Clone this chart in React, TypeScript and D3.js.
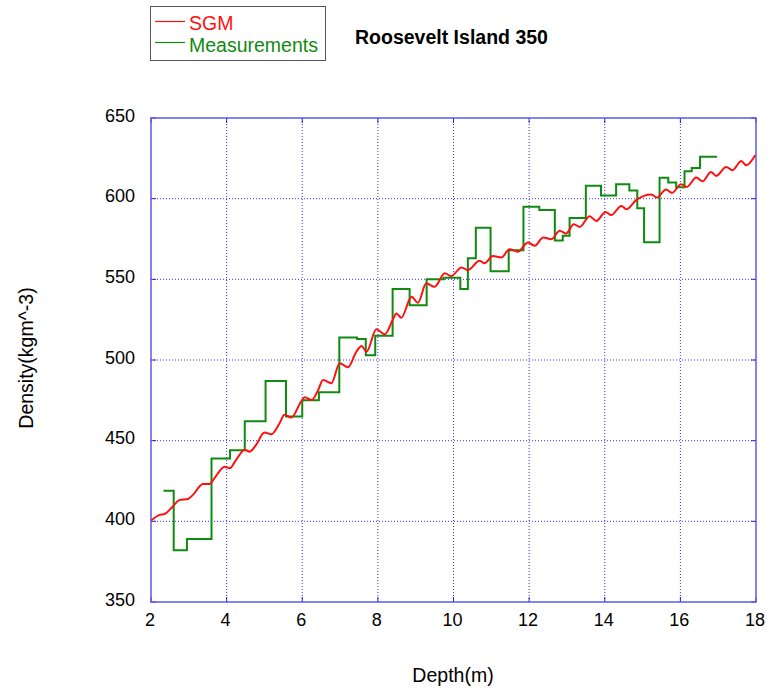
import React, { useEffect, useRef } from "react";
import * as d3 from "d3";

// SGM model curve (depth in m, density in kg/m^3)
const sgmDepth = [
  2.0, 2.23, 2.36, 2.54, 2.76, 2.98, 3.11, 3.37, 3.55, 3.68, 3.95, 4.08, 4.25, 4.48, 4.61, 4.78,
  5.0, 5.18, 5.4, 5.53, 5.71, 5.97, 6.07, 6.25, 6.42, 6.55, 6.77, 6.99, 7.21, 7.43, 7.57, 7.7,
  7.96, 8.18, 8.4, 8.49, 8.62, 8.89, 9.06, 9.28, 9.5, 9.77, 9.94, 10.21, 10.38, 10.69, 10.82,
  11.04, 11.27, 11.48, 11.7, 11.97, 12.15, 12.37, 12.59, 12.81, 12.98, 13.18, 13.34, 13.6,
  13.78, 14.02, 14.17, 14.44, 14.57, 14.83, 15.23, 15.38, 15.62, 15.78, 16.02, 16.17, 16.42,
  16.59, 16.81, 16.95, 17.21, 17.38, 17.61, 17.74, 17.98,
];
const sgmDensity = [
  400.5, 404.0, 404.5, 408.2, 413.3, 413.9, 416.4, 423.2, 423.2, 426.8, 433.9, 432.9, 438.1,
  444.3, 443.2, 447.4, 455.0, 454.0, 460.8, 466.0, 464.3, 474.2, 476.9, 475.2, 481.4, 487.6,
  485.6, 498.0, 495.5, 505.1, 508.7, 505.1, 519.0, 515.9, 525.2, 528.9, 526.2, 539.2, 535.5,
  547.5, 545.4, 553.7, 552.0, 557.4, 555.7, 561.5, 559.9, 564.4, 563.6, 568.7, 567.1, 572.9,
  570.8, 576.0, 574.9, 580.1, 578.4, 584.2, 582.5, 589.1, 586.2, 591.8, 589.8, 595.5, 593.5,
  599.1, 602.6, 600.7, 605.7, 603.6, 609.0, 607.3, 613.1, 610.8, 616.6, 614.1, 619.7, 617.6,
  623.4, 620.7, 626.9,
];

// Measured density: each value holds from its start depth to the next start depth
const measStart = [
  2.33, 2.6, 2.95, 3.6, 4.09, 4.48, 5.03, 5.57, 6.0, 6.44, 6.98, 7.45, 7.68, 7.93, 8.39, 8.84,
  9.29, 9.74, 10.18, 10.38, 10.59, 10.98, 11.46, 11.85, 12.27, 12.68, 12.89, 13.07, 13.5, 13.9,
  14.3, 14.65, 14.86, 15.04, 15.45, 15.68, 15.89, 16.11, 16.3, 16.52,
];
const measDensity = [
  419, 382, 389, 439, 444, 462, 487, 465, 475, 480, 514, 513, 503, 515, 544, 534, 550, 551,
  544, 563, 582, 555, 568, 595, 593, 574, 577, 588, 608, 602, 609, 605, 594, 573, 613, 610,
  607, 617, 619, 626,
];
const measEnd = 16.97;

const xTicks = [2, 4, 6, 8, 10, 12, 14, 16, 18];
const yTicks = [350, 400, 450, 500, 550, 600, 650];

const W = 769;
const H = 693;
const M = { left: 151, right: 756, top: 118, bottom: 602 };
const FONT = "'Liberation Sans', Arial, sans-serif";

export default function App() {
  const ref = useRef<SVGSVGElement | null>(null);

  useEffect(() => {
    const svg = d3.select(ref.current);
    svg.selectAll("*").remove();

    const x = d3.scaleLinear().domain([2, 18]).range([M.left, M.right]);
    const y = d3.scaleLinear().domain([350, 650]).range([M.bottom, M.top]);

    // grid
    const grid = svg.append("g");
    xTicks.slice(1, -1).forEach((t) => {
      grid.append("line")
        .attr("x1", x(t)).attr("x2", x(t))
        .attr("y1", M.top).attr("y2", M.bottom)
        .attr("stroke", "#3333ee").attr("stroke-width", 1)
        .attr("stroke-dasharray", "1,2");
    });
    yTicks.slice(1, -1).forEach((t) => {
      grid.append("line")
        .attr("x1", M.left).attr("x2", M.right)
        .attr("y1", y(t)).attr("y2", y(t))
        .attr("stroke", "#3333ee").attr("stroke-width", 1)
        .attr("stroke-dasharray", "1,2");
    });

    // inward ticks on all sides
    const tk = svg.append("g").attr("stroke", "#2222cc").attr("stroke-width", 1);
    xTicks.forEach((t) => {
      tk.append("line").attr("x1", x(t)).attr("x2", x(t)).attr("y1", M.bottom).attr("y2", M.bottom - 5);
      tk.append("line").attr("x1", x(t)).attr("x2", x(t)).attr("y1", M.top).attr("y2", M.top + 5);
    });
    yTicks.forEach((t) => {
      tk.append("line").attr("x1", M.left).attr("x2", M.left + 5).attr("y1", y(t)).attr("y2", y(t));
      tk.append("line").attr("x1", M.right).attr("x2", M.right - 5).attr("y1", y(t)).attr("y2", y(t));
    });

    // frame
    svg.append("rect")
      .attr("x", M.left).attr("y", M.top)
      .attr("width", M.right - M.left).attr("height", M.bottom - M.top)
      .attr("fill", "none").attr("stroke", "#5a5af0").attr("stroke-width", 1.5);

    // tick labels
    xTicks.forEach((t) => {
      svg.append("text")
        .attr("x", x(t) - 1).attr("y", 626)
        .attr("text-anchor", "middle")
        .attr("font-family", FONT).attr("font-size", 18)
        .text(String(t));
    });
    yTicks.forEach((t) => {
      svg.append("text")
        .attr("x", 135).attr("y", y(t) + 3.5)
        .attr("text-anchor", "end")
        .attr("font-family", FONT).attr("font-size", 18)
        .text(String(t));
    });

    // axis titles
    svg.append("text")
      .attr("x", 453).attr("y", 682)
      .attr("text-anchor", "middle")
      .attr("font-family", FONT).attr("font-size", 19.5)
      .text("Depth(m)");
    svg.append("text")
      .attr("transform", `translate(33,358) rotate(-90)`)
      .attr("text-anchor", "middle")
      .attr("font-family", FONT).attr("font-size", 19.5)
      .text("Density(kgm^-3)");

    // measurements step line
    const steps: [number, number][] = measStart.map((d, i) => [d, measDensity[i]]);
    steps.push([measEnd, measDensity[measDensity.length - 1]]);
    const stepLine = d3.line<[number, number]>()
      .x((d) => x(d[0])).y((d) => y(d[1]))
      .curve(d3.curveStepAfter);
    svg.append("path")
      .attr("d", stepLine(steps))
      .attr("fill", "none").attr("stroke", "#108a10").attr("stroke-width", 2);

    // SGM curve
    const sgm: [number, number][] = sgmDepth.map((d, i) => [d, sgmDensity[i]]);
    const sgmLine = d3.line<[number, number]>()
      .x((d) => x(d[0])).y((d) => y(d[1]))
      .curve(d3.curveMonotoneX);
    svg.append("path")
      .attr("d", sgmLine(sgm))
      .attr("fill", "none").attr("stroke", "#ff1010").attr("stroke-width", 2);

    // legend
    const lg = svg.append("g");
    lg.append("rect")
      .attr("x", 150.5).attr("y", 6.5).attr("width", 175).attr("height", 54)
      .attr("fill", "white").attr("stroke", "#555").attr("stroke-width", 1);
    lg.append("line").attr("x1", 155).attr("x2", 185).attr("y1", 21.5).attr("y2", 21.5)
      .attr("stroke", "#ff1010").attr("stroke-width", 1.2);
    lg.append("text").attr("x", 189).attr("y", 30)
      .attr("font-family", FONT).attr("font-size", 19.5).attr("fill", "#ff1010")
      .text("SGM");
    lg.append("line").attr("x1", 155).attr("x2", 185).attr("y1", 42.5).attr("y2", 42.5)
      .attr("stroke", "#108a10").attr("stroke-width", 1.2);
    lg.append("text").attr("x", 189).attr("y", 51.5)
      .attr("font-family", FONT).attr("font-size", 19.5).attr("fill", "#108a10")
      .text("Measurements");

    // title
    svg.append("text")
      .attr("x", 355).attr("y", 43.5)
      .attr("font-family", FONT).attr("font-size", 19.5).attr("font-weight", "bold")
      .text("Roosevelt Island 350");
  }, []);

  return (
    <svg
      ref={ref}
      width={W}
      height={H}
      style={{ position: "absolute", left: 0, top: 0, background: "white" }}
    />
  );
}
